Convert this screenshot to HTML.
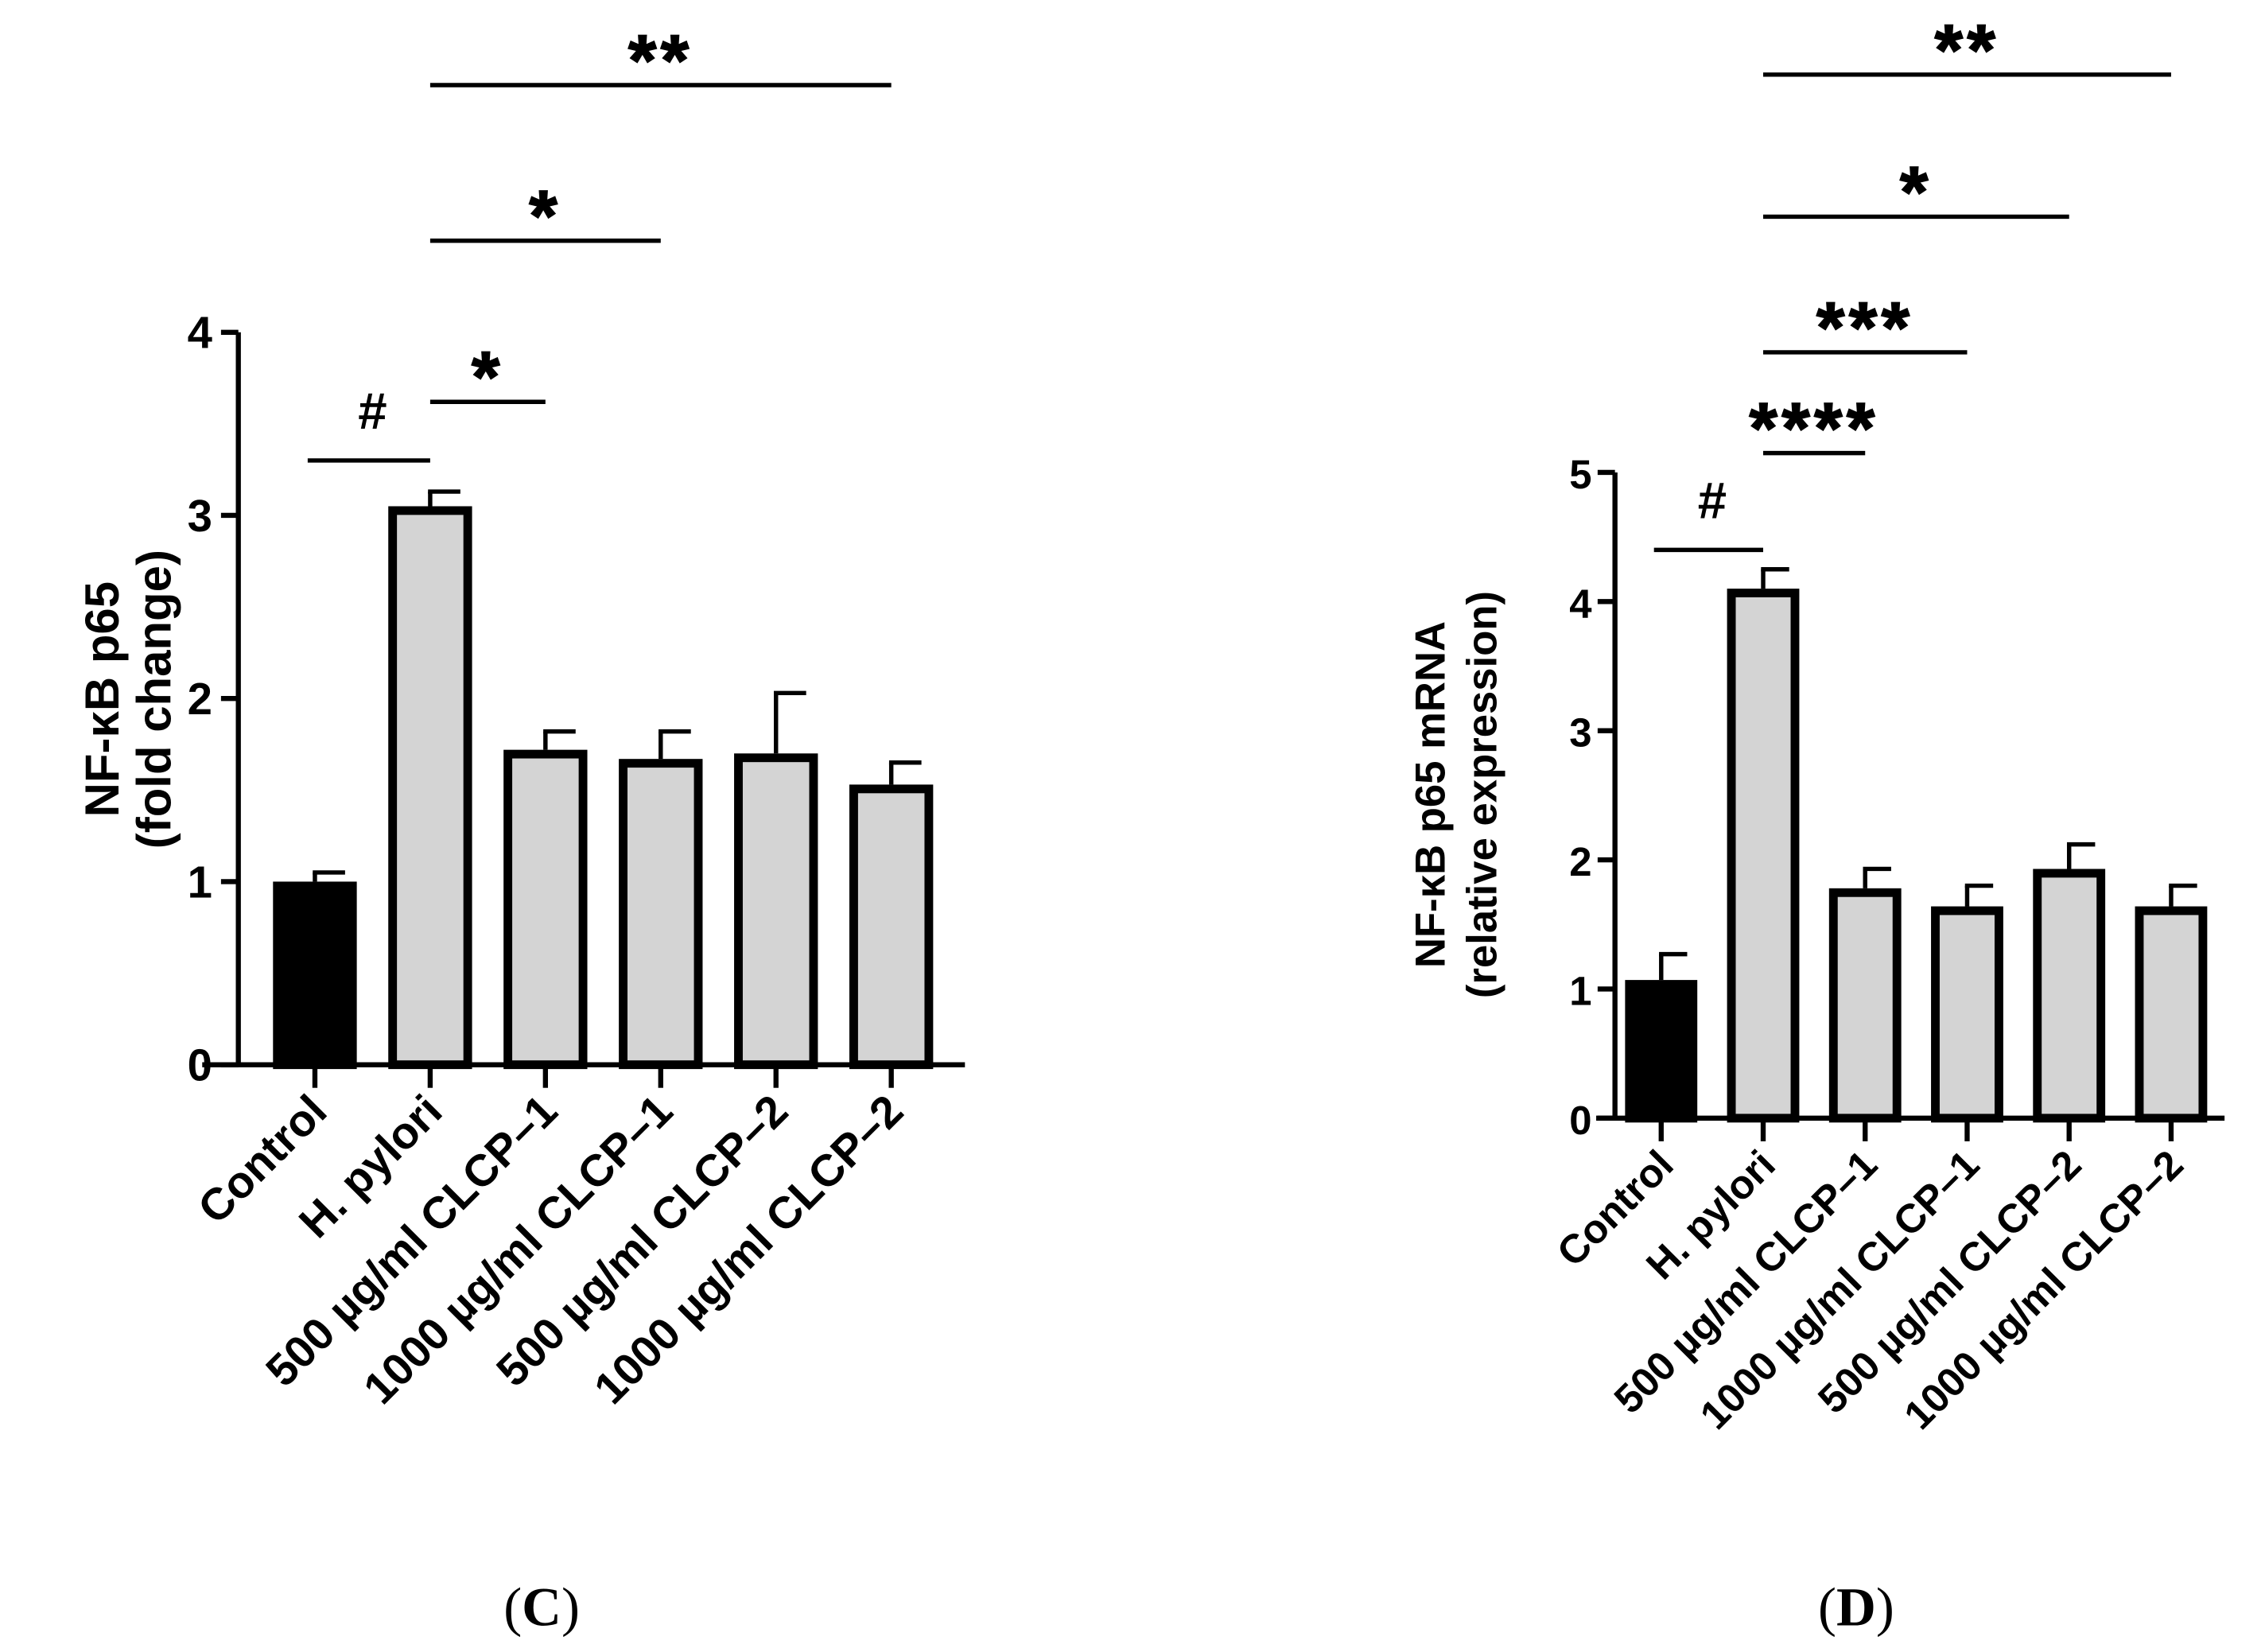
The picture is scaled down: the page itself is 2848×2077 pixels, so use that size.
<!DOCTYPE html>
<html><head><meta charset="utf-8"><style>
html,body{margin:0;padding:0;background:#fff;}
svg{display:block;}
text{font-family:"Liberation Sans",Arial,sans-serif;font-weight:bold;fill:#000;}
</style></head><body>
<svg id="fig" width="2848" height="2077" viewBox="0 0 1568 1143.5" xmlns="http://www.w3.org/2000/svg"></svg>
<script>
const categories = ["Control","H. pylori","500 µg/ml CLCP–1","1000 µg/ml CLCP–1","500 µg/ml CLCP–2","1000 µg/ml CLCP–2"];
const valuesC = [1.0, 3.05, 1.72, 1.67, 1.70, 1.53];
const errTopC = [1.05, 3.13, 1.82, 1.82, 2.03, 1.65];
const ticksC = [0,1,2,3,4];
const valuesD = [1.07, 4.10, 1.78, 1.64, 1.93, 1.64];
const errTopD = [1.27, 4.25, 1.93, 1.80, 2.12, 1.80];
const ticksD = [0,1,2,3,4,5];
const sigC = [[0,1,3.3,"#"],[1,2,3.62,"*"],[1,3,4.5,"*"],[1,5,5.35,"**"]];
const sigD = [[0,1,4.4,"#"],[1,2,5.15,"****"],[1,3,5.93,"***"],[1,4,6.98,"*"],[1,5,8.08,"**"]];

const NS="http://www.w3.org/2000/svg";
const svg=document.getElementById('fig');
function el(tag,attrs,parent){const e=document.createElementNS(NS,tag);for(const k in attrs)e.setAttribute(k,attrs[k]);(parent||svg).appendChild(e);return e;}

function drawChart(cfg){
  const g=el('g',{});
  
  
  const ymax=cfg.ticks[cfg.ticks.length-1];
  const y=v=>cfg.y0-(cfg.y0-cfg.yTop)*v/ymax;
  const x=i=>cfg.x0+i*cfg.step;
  cfg.values.forEach((v,i)=>{
    const et=el('line',{x1:x(i),x2:x(i),y1:y(v),y2:y(cfg.err[i]),stroke:'#000','stroke-width':3},g);
    
    
    const ec=el('line',{x1:x(i)-1.5,x2:x(i)+cfg.bw*0.36,y1:y(cfg.err[i]),y2:y(cfg.err[i]),stroke:'#000','stroke-width':3},g);
    
    
    const r=el('rect',{x:x(i)-cfg.bw/2+3,y:y(v)+3,width:cfg.bw-6,height:cfg.y0-y(v)-3,fill:i===0?'#000':'#d4d4d4',stroke:'#000','stroke-width':6},g);
    
    
  });
  const ya=el('line',{x1:cfg.axX,x2:cfg.axX,y1:cfg.yTop,y2:cfg.y0,stroke:'#000','stroke-width':3.5},g);
  
  
  const xa=el('line',{x1:cfg.xStart,x2:cfg.xEnd,y1:cfg.y0,y2:cfg.y0,stroke:'#000','stroke-width':3.5},g);
  
  
  cfg.ticks.forEach(t=>{
    el('line',{x1:cfg.axX-12,x2:cfg.axX,y1:y(t),y2:y(t),stroke:'#000','stroke-width':3.5},g);
    const tl=el('text',{x:cfg.axX-cfg.tickGap,y:y(t)+11,'text-anchor':'end','font-size':cfg.tkfs},g);
    tl.textContent=t;
    
    
  });
  categories.forEach((c,i)=>{
    el('line',{x1:x(i),x2:x(i),y1:cfg.y0,y2:cfg.y0+16,stroke:'#000','stroke-width':3.5},g);
    const ax=x(i)+10, ay=cfg.y0+34;
    const tl=el('text',{x:ax,y:ay,'text-anchor':'end','font-size':cfg.lfs,transform:`rotate(-45 ${ax} ${ay})`},g);
    tl.textContent=c;
    
    
  });
  const yc=cfg.titleY;
  const t1=el('text',{x:cfg.t1x,y:yc,'text-anchor':'middle','font-size':cfg.tfs,transform:`rotate(-90 ${cfg.t1x} ${yc})`},g);
  t1.textContent=cfg.title1;
  
  
  const t2=el('text',{x:cfg.t2x,y:yc,'text-anchor':'middle','font-size':cfg.tfs,transform:`rotate(-90 ${cfg.t2x} ${yc})`},g);
  t2.textContent=cfg.title2;
  
  
  cfg.sig.forEach(s=>{
    const ly=y(s[2]);
    const l=el('line',{x1:x(s[0])-(s[0]===0?5:0),x2:x(s[1]),y1:ly,y2:ly,stroke:'#000','stroke-width':3},g);
    
    
    const isHash=s[3]==='#';
    const tx=el('text',{x:(x(s[0])+x(s[1]))/2,y:isHash?ly-22:ly,'text-anchor':'middle','font-size':isHash?36:50,'letter-spacing':isHash?0:3,stroke:isHash?'none':'#000','stroke-width':1},g);
    tx.textContent=s[3];
    
    
  });
  const p=el('text',{x:cfg.panelX,y:1125,'text-anchor':'middle','font-size':38,style:'font-family:"Liberation Serif",serif;font-weight:normal'},g);
  p.innerHTML='(<tspan font-weight="bold">'+cfg.panel+'</tspan>)';
  
  
}

drawChart({name:'chart-c',values:valuesC,err:errTopC,ticks:ticksC,sig:sigC,y0:737,yTop:230,x0:218,step:79.8,bw:58,axX:165,xStart:140,xEnd:668,
  title1:'NF-κB p65',title2:'(fold change)',t1x:82,t2x:118,titleY:484,tfs:33,lfs:31,tkfs:31,tickGap:18,panel:'C',panelX:375});
drawChart({name:'chart-d',values:valuesD,err:errTopD,ticks:ticksD,sig:sigD,y0:774,yTop:327,x0:1150,step:70.6,bw:50,axX:1118,xStart:1105,xEnd:1540,
  title1:'NF-κB p65 mRNA',title2:'(relative expression)',t1x:1000,t2x:1036,titleY:550,tfs:29,lfs:28,tkfs:28,tickGap:16,panel:'D',panelX:1285});
</script>
</body></html>
